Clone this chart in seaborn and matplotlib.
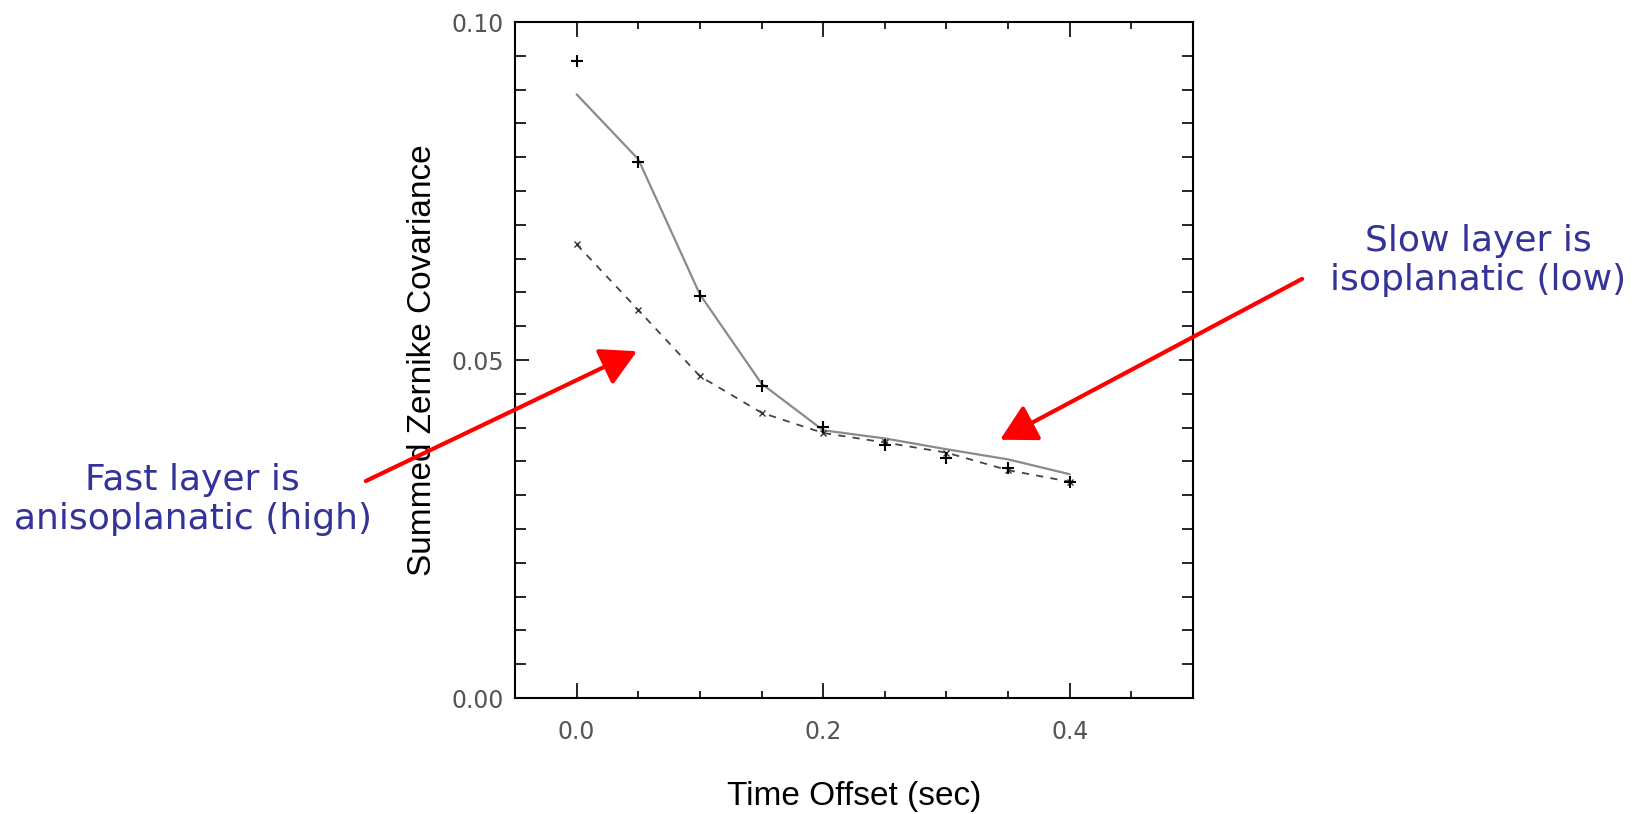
import numpy as np
import pandas as pd
import matplotlib
matplotlib.use("Agg")
import matplotlib.pyplot as plt
from matplotlib.ticker import MultipleLocator
import seaborn as sns

# --- data ---
time_offset = [0.0, 0.05, 0.10, 0.15, 0.20, 0.25, 0.30, 0.35, 0.40]
measured = [0.0942, 0.0793, 0.0594, 0.0462, 0.0401, 0.0374, 0.0355, 0.0340, 0.0320]
model_fast = [0.0893, 0.0797, 0.0597, 0.0465, 0.0396, 0.0384, 0.0368, 0.0353, 0.0331]
model_slow = [0.0671, 0.0574, 0.0476, 0.0422, 0.0392, 0.0378, 0.0363, 0.0337, 0.0320]

x_ticks = [0.0, 0.2, 0.4]
y_ticks = [0.00, 0.05, 0.10]

df = pd.DataFrame({"t": time_offset, "meas": measured,
                   "fast": model_fast, "slow": model_slow})

sns.set_style("white")
plt.rcParams["font.family"] = ["DejaVu Sans"]

fig = plt.figure(figsize=(16.34, 8.14), dpi=100)
ax = fig.add_axes([515 / 1634, 116 / 814, 678 / 1634, 676 / 814])

# solid model curve
sns.lineplot(data=df, x="t", y="fast", ax=ax, color="#8a8a8a", lw=1.6)
# dashed curve with small x markers
sns.lineplot(data=df, x="t", y="slow", ax=ax, color="#444444", lw=1.3,
             linestyle=(0, (4, 4)), marker="x", markersize=5,
             markeredgewidth=1.0, markeredgecolor="#333333")
# measured points
sns.scatterplot(data=df, x="t", y="meas", ax=ax, marker="+", s=80,
                color="black", linewidth=1.5, zorder=5)

ax.set_xlim(-0.05, 0.5)
ax.set_ylim(0.0, 0.10)
ax.set_xticks(x_ticks)
ax.set_xticklabels([f"{v:.1f}" for v in x_ticks])
ax.set_yticks(y_ticks)
ax.set_yticklabels([f"{v:.2f}" for v in y_ticks])
ax.xaxis.set_minor_locator(MultipleLocator(0.05))
ax.yaxis.set_minor_locator(MultipleLocator(0.005))

ax.tick_params(which="both", direction="in", top=True, right=True,
               bottom=True, left=True, width=1.2, color="black")
ax.tick_params(axis="x", which="major", length=11, pad=16,
               labelsize=17, labelcolor="#555555")
ax.tick_params(axis="x", which="minor", length=5)
ax.tick_params(axis="y", which="major", length=10, pad=8,
               labelsize=17, labelcolor="#555555")
ax.tick_params(axis="y", which="minor", length=8)
for s in ax.spines.values():
    s.set_visible(True)
    s.set_color("black")
    s.set_linewidth(1.5)

ax.set_xlabel("Time Offset (sec)", fontsize=24, family="Liberation Sans",
              color="black")
ax.set_ylabel("Summed Zernike Covariance", fontsize=24,
              family="Liberation Sans", color="black")
ax.xaxis.label.set_va("center")
ax.yaxis.label.set_va("center")
ax.xaxis.set_label_coords(0.5, -0.146)
ax.yaxis.set_label_coords(-0.137, 0.5)

# red arrows
arrow = dict(arrowstyle="-|>,head_length=0.55,head_width=0.3", color="#ff0000",
             lw=3, mutation_scale=40, shrinkA=0, shrinkB=0)
ax.annotate("", xy=(0.049, 0.0513), xytext=(-0.171, 0.0321),
            arrowprops=arrow, annotation_clip=False)
ax.annotate("", xy=(0.3435, 0.0382), xytext=(0.5885, 0.0620),
            arrowprops=arrow, annotation_clip=False)

blue = "#333399"
fig.text(0.9045, 0.680, "Slow layer is\nisoplanatic (low)", ha="center",
         va="center", fontsize=26, color=blue, multialignment="center")
fig.text(0.118, 0.386, "Fast layer is\nanisoplanatic (high)", ha="center",
         va="center", fontsize=26, color=blue, multialignment="center")

fig.savefig("out.png", dpi=100)
